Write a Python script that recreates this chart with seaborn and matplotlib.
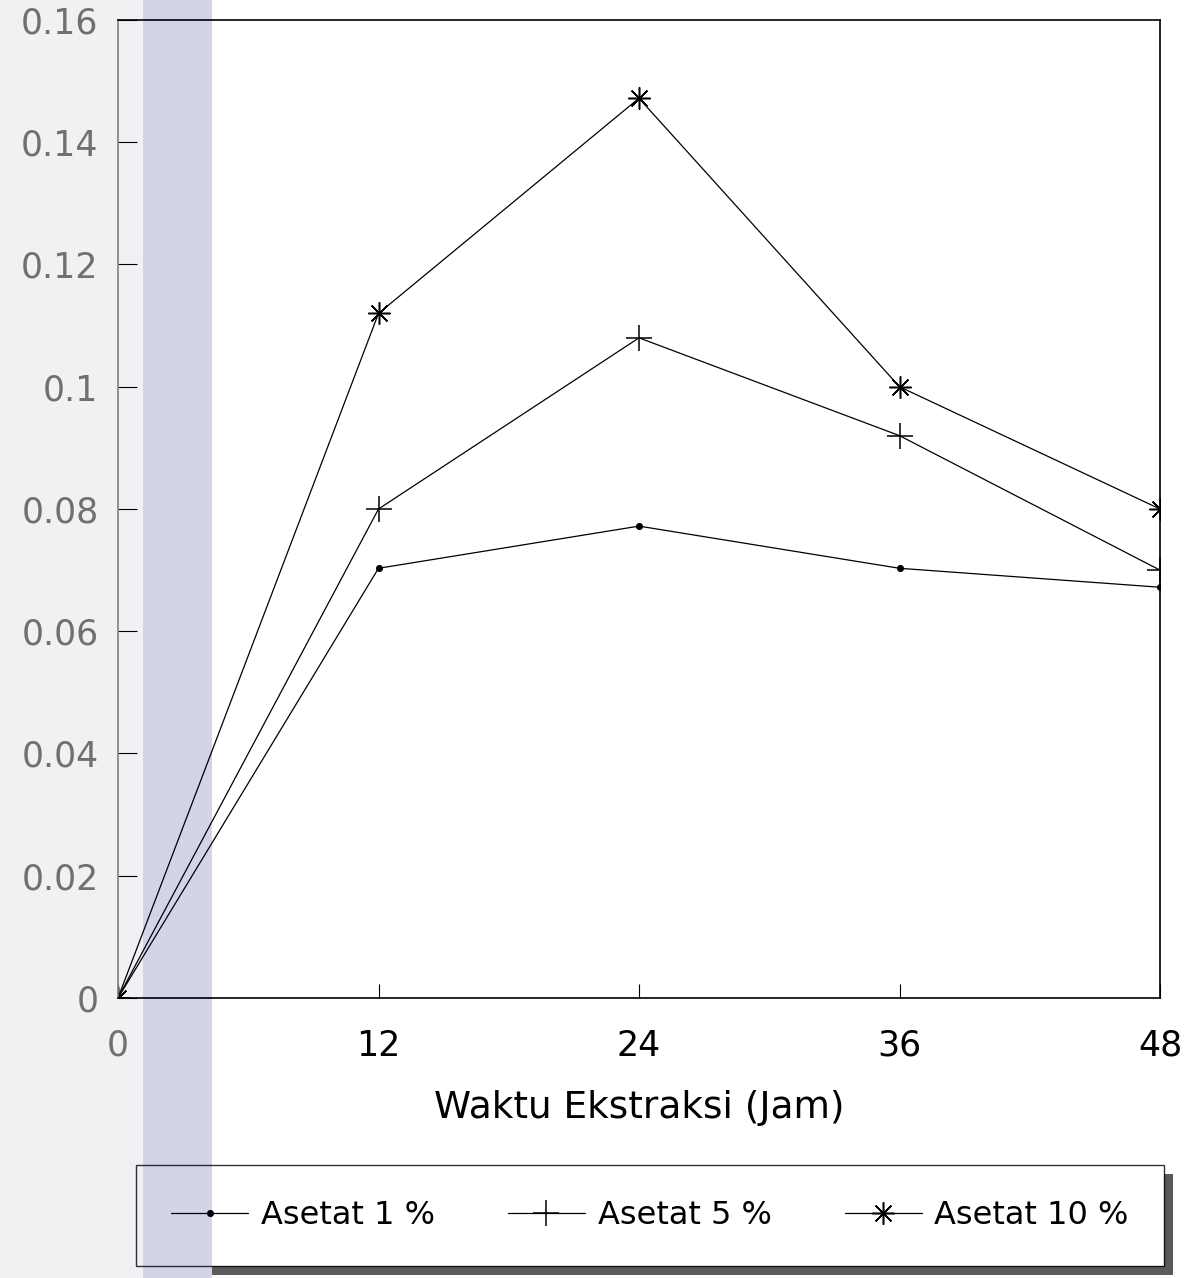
import numpy as np
import pandas as pd
import matplotlib
matplotlib.use("Agg")
import matplotlib.pyplot as plt
from matplotlib.patches import Rectangle
from matplotlib.lines import Line2D
import seaborn as sns

waktu = [0, 12, 24, 36, 48]
asetat_1 = [0.0, 0.0703, 0.0772, 0.0703, 0.0672]
asetat_5 = [0.0, 0.080, 0.108, 0.092, 0.070]
asetat_10 = [0.0, 0.112, 0.1472, 0.100, 0.080]
seri = ["Asetat 1 %", "Asetat 5 %", "Asetat 10 %"]
yticks = [0, 0.02, 0.04, 0.06, 0.08, 0.1, 0.12, 0.14, 0.16]
ylabels = ["0", "0.02", "0.04", "0.06", "0.08", "0.1", "0.12", "0.14", "0.16"]

# marker style per series
gaya = {
    "Asetat 1 %": dict(marker="o", markersize=4),
    "Asetat 5 %": dict(marker="+", markersize=19),
    "Asetat 10 %": dict(marker=(8, 2, 0), markersize=16),
}

sns.set_style("ticks")
plt.rcParams['font.family'] = ['DejaVu Sans']

fig = plt.figure(figsize=(11.96, 12.78), dpi=100)
fig.patch.set_facecolor("white")
# scan strip on the left
fig.patches.append(Rectangle((0, 0), 143 / 1196, 1, transform=fig.transFigure,
                             facecolor="#f1f1f4", edgecolor="none", zorder=-4))
fig.patches.append(Rectangle((143 / 1196, 0), 69 / 1196, 1, transform=fig.transFigure,
                             facecolor="#d2d4e8", edgecolor="none", zorder=-4))

ax = fig.add_axes([118 / 1196, 1 - 998 / 1278, (1160 - 118) / 1196, (998 - 20) / 1278])
ax.set_facecolor("none")

for nama, nilai in zip(seri, [asetat_1, asetat_5, asetat_10]):
    sns.lineplot(x=waktu, y=nilai, color="black", linewidth=0.9,
                 markeredgewidth=1.1, markeredgecolor="black", markerfacecolor="black",
                 ax=ax, **gaya[nama])

ax.set_xlim(0, 48)
ax.set_ylim(0, 0.16)
ax.set_xticks(waktu)
ax.set_yticks(yticks)
ax.set_yticklabels(ylabels)
ax.tick_params(axis="both", direction="in", width=0.8, labelsize=25, colors="black",
               top=False, right=False)
ax.tick_params(axis="y", length=14, pad=14, labelcolor="#707070")
ax.tick_params(axis="x", length=10, pad=22)
ax.get_xticklabels()[0].set_color("#707070")
for sp in ax.spines.values():
    sp.set_linewidth(1.2)
    sp.set_color("black")
ax.spines["left"].set_color("#808080")
ax.set_xlabel("Waktu Ekstraksi (Jam)", fontsize=27, labelpad=20, color="black")
ax.set_ylabel("")

handles = [Line2D([], [], color="black", lw=0.9, markeredgewidth=1.1, **gaya[n]) for n in seri]
leg = fig.legend(handles, seri, loc="lower center", bbox_to_anchor=(650 / 1196, 12 / 1278),
                 ncol=3, fontsize=23, frameon=True, fancybox=False, shadow=False,
                 edgecolor="black", facecolor="none", framealpha=None,
                 handlelength=2.4, handletextpad=0.4, columnspacing=2.3,
                 borderpad=1.1, borderaxespad=0, labelcolor="black")
leg.get_frame().set_linewidth(1.0)

# white box and heavy dark shadow behind the legend
fig.canvas.draw()
bb = leg.get_window_extent()
fig.patches.append(Rectangle((bb.x0 + 9, bb.y0 - 9), bb.width, bb.height, transform=None,
                             facecolor="#5a5a5a", edgecolor="none", zorder=-7))
fig.patches.append(Rectangle((bb.x0, bb.y0), bb.width, bb.height, transform=None,
                             facecolor="white", edgecolor="none", zorder=-6))

fig.savefig("out.png", dpi=100)
